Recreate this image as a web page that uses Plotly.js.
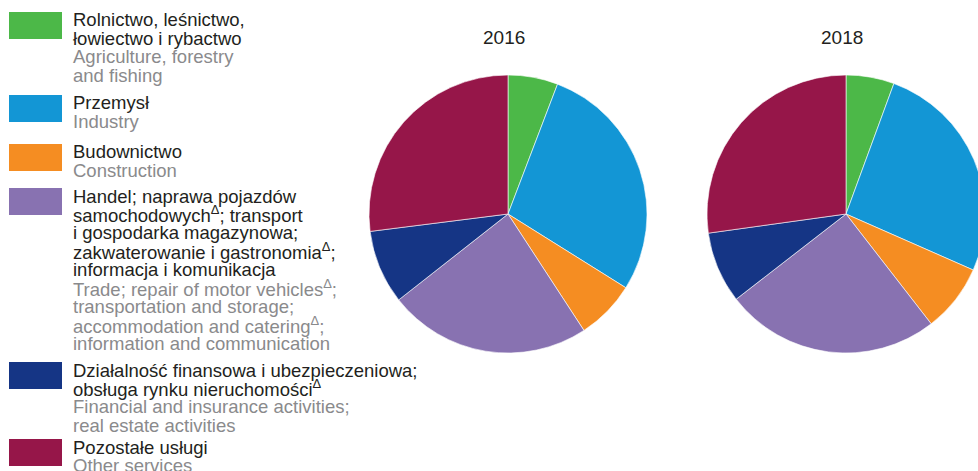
<!DOCTYPE html>
<html>
<head>
<meta charset="utf-8">
<script src="https://cdn.plot.ly/plotly-3.0.1.min.js"></script>
<style>
  html, body { margin: 0; padding: 0; overflow: hidden; background: #fff; }
  #chart { width: 990px; height: 471px; }
</style>
</head>
<body>
<div id="chart"></div>
<script>
// ---- data ----
const years = ['2016', '2018'];
const categories = [
  'Rolnictwo, leśnictwo, łowiectwo i rybactwo',
  'Przemysł',
  'Budownictwo',
  'Handel; naprawa pojazdów samochodowych; transport i gospodarka magazynowa; zakwaterowanie i gastronomia; informacja i komunikacja',
  'Działalność finansowa i ubezpieczeniowa; obsługa rynku nieruchomości',
  'Pozostałe usługi'
];
const values2016 = [5.8, 28.1, 6.9, 23.6, 8.6, 27.0];
const values2018 = [5.6, 26.0, 7.9, 25.0, 8.3, 27.2];
const colors = ['#4cb848', '#1396d5', '#f58d22', '#8872b1', '#153585', '#961649'];

const legendPL = [
  ['Rolnictwo, leśnictwo,', 'łowiectwo i rybactwo'],
  ['Przemysł'],
  ['Budownictwo'],
  ['Handel; naprawa pojazdów', 'samochodowych<sup>Δ</sup>; transport', 'i gospodarka magazynowa;',
   'zakwaterowanie i gastronomia<sup>Δ</sup>;', 'informacja i komunikacja'],
  ['Działalność finansowa i ubezpieczeniowa;', 'obsługa rynku nieruchomości<sup>Δ</sup>'],
  ['Pozostałe usługi']
];
const legendEN = [
  ['Agriculture, forestry', 'and fishing'],
  ['Industry'],
  ['Construction'],
  ['Trade; repair of motor vehicles<sup>Δ</sup>;', 'transportation and storage;',
   'accommodation and catering<sup>Δ</sup>;', 'information and communication'],
  ['Financial and insurance activities;', 'real estate activities'],
  ['Other services']
];

// ---- layout helpers ----
const W = 990, H = 471;
const px = x => x / W;
const py = y => 1 - y / H;
const FONT = '"Liberation Sans", Arial, sans-serif';

function pieDomain(cx, cy, r) {
  return { x: [px(cx - r), px(cx + r)], y: [py(cy + r), py(cy - r)] };
}

const pieCenters = [[508, 214], [846, 214]];
const R = 139;
const series = [values2016, values2018];

const data = series.map((vals, i) => ({
  type: 'pie',
  labels: categories,
  values: vals,
  sort: false,
  direction: 'clockwise',
  rotation: 0,
  textinfo: 'none',
  hoverinfo: 'label+percent',
  marker: { colors: colors, line: { color: '#ffffff', width: 0.6 } },
  domain: pieDomain(pieCenters[i][0], pieCenters[i][1], R),
  showlegend: false
}));

const annotations = [];
const shapes = [];

// year titles
years.forEach((y, i) => {
  annotations.push({
    xref: 'paper', yref: 'paper',
    x: px(pieCenters[i][0] - 4), y: py(38),
    xanchor: 'center', yanchor: 'middle',
    text: y, showarrow: false,
    font: { family: FONT, size: 19, color: '#231f20' }
  });
});

// custom legend
const itemTops = [12, 95, 144, 188, 362, 439];
const LINE = 18.45;
categories.forEach((c, i) => {
  const top = itemTops[i];
  shapes.push({
    type: 'rect', xref: 'paper', yref: 'paper',
    x0: px(9), x1: px(62), y0: py(top), y1: py(top + 27),
    fillcolor: colors[i], line: { width: 0 }
  });
  const lines = legendPL[i].map(t => [t, '#231f20']).concat(legendEN[i].map(t => [t, '#8a8a8c']));
  lines.forEach((ln, k) => {
    annotations.push({
      xref: 'paper', yref: 'paper',
      x: px(71), y: py(top + 8 + k * LINE),
      xanchor: 'left', yanchor: 'middle',
      text: ln[0], showarrow: false,
      font: { family: FONT, size: 18.5, color: ln[1] }
    });
  });
});

const layout = {
  width: W, height: H,
  margin: { l: 0, r: 0, t: 0, b: 0 },
  paper_bgcolor: '#ffffff',
  plot_bgcolor: '#ffffff',
  showlegend: false,
  annotations: annotations,
  shapes: shapes,
  font: { family: FONT }
};

Plotly.newPlot('chart', data, layout, { displayModeBar: false, staticPlot: true });
</script>
</body>
</html>
